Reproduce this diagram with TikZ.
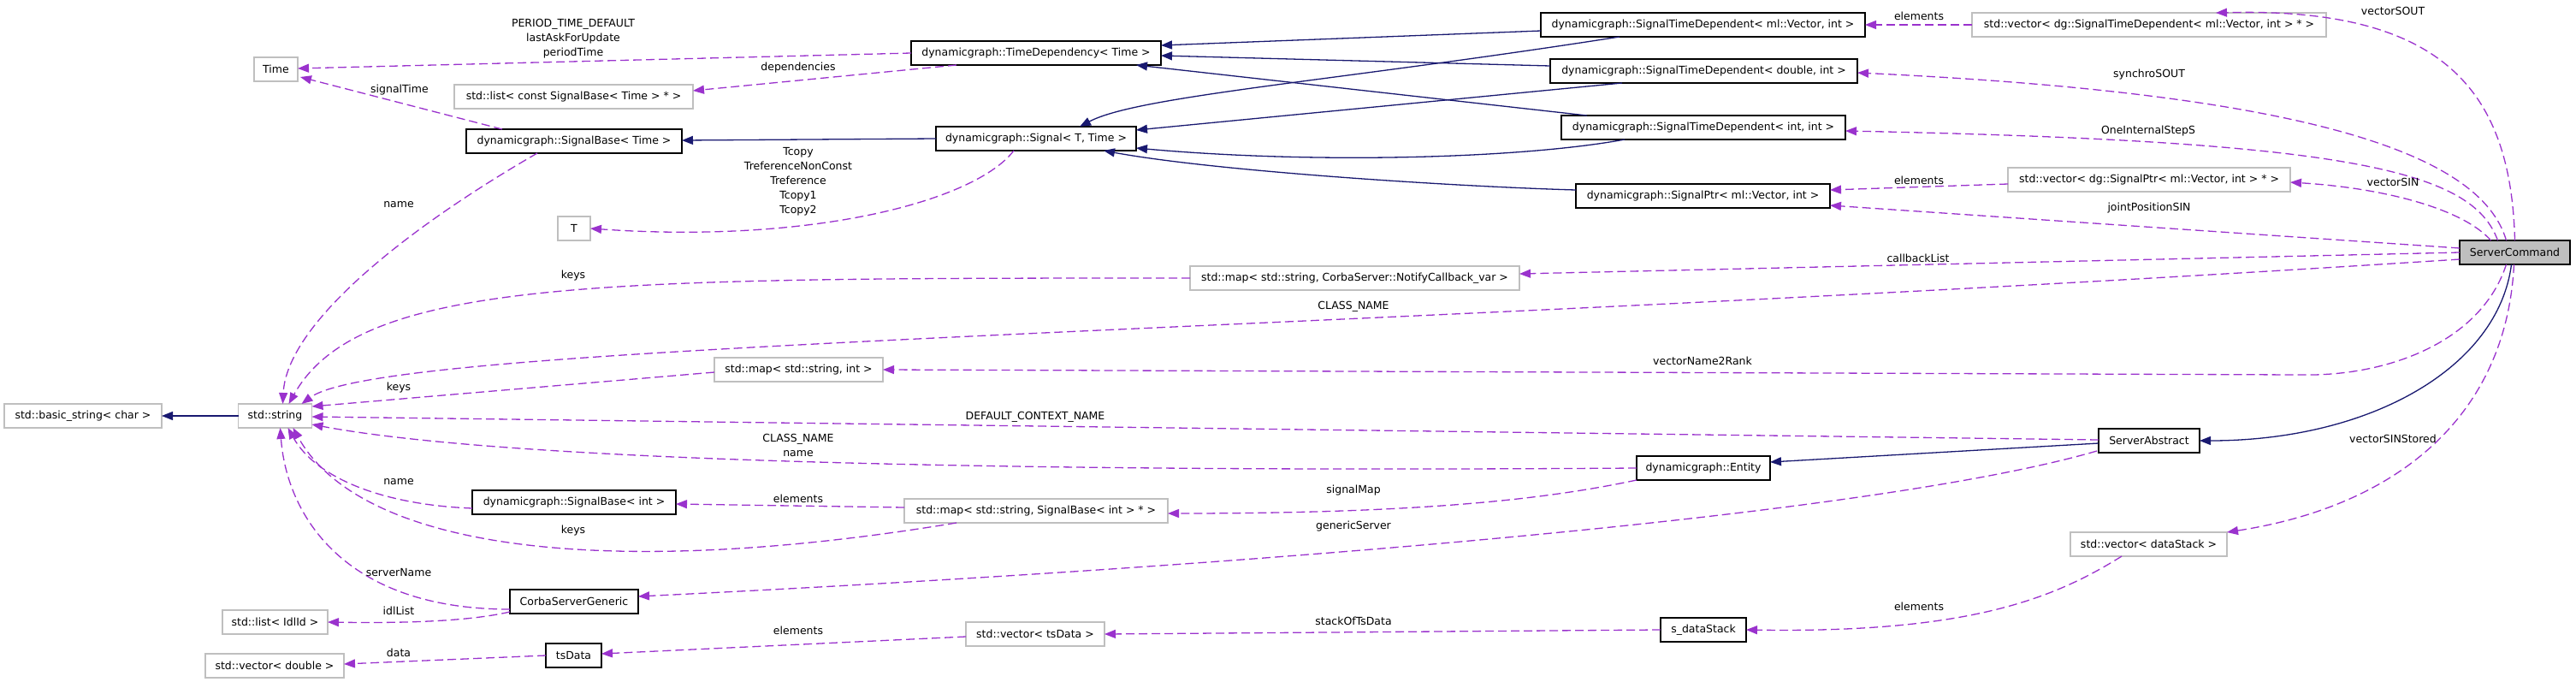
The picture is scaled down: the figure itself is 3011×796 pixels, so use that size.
\documentclass[tikz,border=0pt]{standalone}
\usepackage{fontspec}
\setmainfont{DejaVu Sans}
\usetikzlibrary{arrows.meta,calc}
\definecolor{usecol}{HTML}{9A32CD}
\definecolor{inhcol}{HTML}{191970}
\definecolor{grayb}{HTML}{BFBFBF}
\begin{document}
\begin{tikzpicture}[x=1pt,y=-1pt,
 every node/.style={font=\fontsize{12.5pt}{17pt}\selectfont, inner sep=0pt, outer sep=0pt},
 cls/.style={draw=black, line width=1.7pt, fill=white, minimum height=28pt},
 ext/.style={draw=grayb, line width=1.7pt, fill=white, minimum height=28pt},
 lbl/.style={align=center},
 inh/.style={draw=inhcol, line width=1.3pt, -{Triangle[length=13pt,width=10pt]}},
 use/.style={draw=usecol, line width=1.3pt, dash pattern=on 10pt off 5pt, -{Triangle[length=13pt,width=10pt]}},
]
\useasboundingbox (0,0) rectangle (3011,796);

% ---------- nodes ----------
\node[cls, fill=grayb, minimum width=129pt] (sc) at (2939.5,295) {ServerCommand};
\node[ext, minimum width=414pt] (stdvecstd) at (2512,29) {std::vector< dg::SignalTimeDependent< ml::Vector, int > * >};
\node[ext, minimum width=330pt] (vecsptr) at (2512,210) {std::vector< dg::SignalPtr< ml::Vector, int > * >};
\node[cls, minimum width=379pt] (stdvec) at (1990.5,29) {dynamicgraph::SignalTimeDependent< ml::Vector, int >};
\node[cls, minimum width=359pt] (stddbl) at (1991.5,83) {dynamicgraph::SignalTimeDependent< double, int >};
\node[cls, minimum width=332pt] (stdint) at (1991,149) {dynamicgraph::SignalTimeDependent< int, int >};
\node[cls, minimum width=297pt] (sptr) at (1990.5,229) {dynamicgraph::SignalPtr< ml::Vector, int >};
\node[cls, minimum width=292pt] (timedep) at (1211,62) {dynamicgraph::TimeDependency< Time >};
\node[cls, minimum width=234pt] (signal) at (1211,162) {dynamicgraph::Signal< T, Time >};
\node[ext, minimum width=51pt] (time) at (322.5,81) {Time};
\node[ext, minimum width=279pt] (listsb) at (670.5,113) {std::list< const SignalBase< Time > * >};
\node[cls, minimum width=252pt] (sbtime) at (671,165) {dynamicgraph::SignalBase< Time >};
\node[ext, minimum width=38pt] (T) at (671,267) {T};
\node[ext, minimum width=385pt] (mapcb) at (1583.5,325) {std::map< std::string, CorbaServer::NotifyCallback\_var >};
\node[ext, minimum width=197pt] (mapsi) at (933.5,432) {std::map< std::string, int >};
\node[ext, minimum width=86pt] (string) at (321.5,486) {std::string};
\node[ext, minimum width=184pt] (bstring) at (97,486) {std::basic\_string< char >};
\node[cls, minimum width=118pt] (sabs) at (2512,515) {ServerAbstract};
\node[cls, minimum width=156pt] (entity) at (1991,547) {dynamicgraph::Entity};
\node[cls, minimum width=238pt] (sbint) at (671,587) {dynamicgraph::SignalBase< int >};
\node[ext, minimum width=308pt] (mapsb) at (1211,597) {std::map< std::string, SignalBase< int > * >};
\node[cls, minimum width=150pt] (corba) at (671,703) {CorbaServerGeneric};
\node[ext, minimum width=123pt] (listidl) at (321.5,727) {std::list< IdlId >};
\node[cls, minimum width=65pt] (tsdata) at (670.5,766) {tsData};
\node[ext, minimum width=162pt] (vecdbl) at (321,778) {std::vector< double >};
\node[ext, minimum width=162pt] (vects) at (1210,741) {std::vector< tsData >};
\node[cls, minimum width=100pt] (sds) at (1991,736) {s\_dataStack};
\node[ext, minimum width=183pt] (vecds) at (2511.5,636) {std::vector< dataStack >};

% ---------- inheritance ----------
\draw[inh] (string.west) -- (bstring.east);
\draw[inh] (signal.west) -- ($(sbtime.east)+(0,-1)$);
\draw[inh] ($(stdvec.west)+(0,7)$) -- ($(timedep.east)+(0,-9)$);
\draw[inh] ($(stdvec.south west)+(92,0)$) .. controls (1560,95) and (1330,112) .. ($(signal.north west)+(168,0)$);
\draw[inh] ($(stddbl.west)+(0,-6)$) -- ($(timedep.east)+(0,3)$);
\draw[inh] ($(stddbl.south west)+(84,0)$) -- ($(signal.east)+(0,-10)$);
\draw[inh] ($(stdint.north west)+(30,0)$) -- ($(timedep.south east)+(-29,0)$);
\draw[inh] ($(stdint.south west)+(74,0)$) .. controls (1780,185) and (1540,192) .. ($(signal.east)+(0,11)$);
\draw[inh] ($(sptr.west)+(0,-7)$) .. controls (1700,218) and (1420,200) .. ($(signal.south east)+(-38,0)$);
\draw[inh] ($(sc.south)+(-4,0)$) .. controls (2920,430) and (2770,515) .. (sabs.east);
\draw[inh] ($(sabs.west)+(0,3)$) -- ($(entity.east)+(0,-7)$);

% ---------- usage ----------
\draw[use] (timedep.west) -- ($(time.east)+(0,-1)$);
\draw[use] ($(timedep.south west)+(53,0)$) -- ($(listsb.east)+(0,-7)$);
\draw[use] ($(sbtime.north west)+(42,0)$) -- ($(time.south east)+(3,-5)$);
\draw[use] ($(sbtime.south west)+(83,0)$) .. controls (470,270) and (335,380) .. ($(string.north west)+(52,0)$);
\draw[use] ($(signal.south west)+(91,0)$) .. controls (1140,235) and (950,285) .. (T.east);
\draw[use] (stdvecstd.west) -- (stdvec.east);
\draw[use] (sc.north) .. controls (2935,110) and (2860,8) .. ($(stdvecstd.north east)+(-129,0)$);
\draw[use] ($(sc.north)+(-10,0)$) .. controls (2900,180) and (2700,110) .. ($(stddbl.east)+(0,2)$);
\draw[use] ($(sc.north)+(-20,0)$) .. controls (2890,200) and (2750,165) .. ($(stdint.east)+(0,4)$);
\draw[use] ($(vecsptr.west)+(0,5)$) -- ($(sptr.east)+(0,-7)$);
\draw[use] ($(sc.north)+(-28,0)$) .. controls (2880,245) and (2790,220) .. ($(vecsptr.east)+(0,3)$);
\draw[use] ($(sc.west)+(0,-5)$) -- ($(sptr.east)+(0,11)$);
\draw[use] (sc.west) -- ($(mapcb.east)+(0,-5)$);
\draw[use] (mapcb.west) .. controls (700,325) and (420,325) .. ($(string.north west)+(59,0)$);
\draw[use] ($(sc.west)+(0,8)$) .. controls (1500,392) and (450,400) .. ($(string.north east)+(-12,0)$);
\draw[use] ($(sc.south)+(-10,0)$) .. controls (2900,400) and (2790,440) .. (2690,438) -- (mapsi.east);
\draw[use] ($(sc.south)+(-1,0)$) .. controls (2930,480) and (2810,590) .. (vecds.north east);
\draw[use] ($(vecds.south west)+(60,0)$) .. controls (2400,700) and (2300,740) .. (sds.east);
\draw[use] (sds.west) -- (vects.east);
\draw[use] ($(vects.west)+(0,3)$) -- ($(tsdata.east)+(0,-2)$);
\draw[use] (tsdata.west) -- ($(vecdbl.east)+(0,-2)$);
\draw[use] ($(corba.west)+(0,12)$) .. controls (540,728) and (450,728) .. (listidl.east);
\draw[use] ($(corba.west)+(0,9)$) .. controls (400,712) and (335,600) .. ($(string.south west)+(49,0)$);
\draw[use] ($(sbint.west)+(0,7)$) .. controls (450,590) and (370,560) .. ($(string.south west)+(58,0)$);
\draw[use] ($(mapsb.south west)+(61,0)$) .. controls (700,680) and (420,640) .. ($(string.south west)+(64,0)$);
\draw[use] ($(mapsb.west)+(0,-4)$) -- ($(sbint.east)+(0,2)$);
\draw[use] (entity.south west) .. controls (1800,585) and (1650,600) .. ($(mapsb.east)+(0,3)$);
\draw[use] (entity.west) .. controls (1200,552) and (600,540) .. ($(string.east)+(0,10)$);
\draw[use] ($(sabs.south west)+(-2,-2)$) .. controls (2200,600) and (1500,660) .. ($(corba.east)+(0,-6)$);
\draw[use] ($(sabs.west)+(0,-1)$) -- ($(string.east)+(0,1)$);
\draw[use] ($(mapsi.west)+(0,3)$) -- ($(string.north east)+(0,3)$);

% ---------- labels ----------
\node[lbl] (l1) at (670,45) {PERIOD\_TIME\_DEFAULT\\lastAskForUpdate\\periodTime};
\node[lbl] (l2) at (933,79) {dependencies};
\node[lbl] (l3) at (467,105) {signalTime};
\node[lbl] (l4) at (466,239) {name};
\node[lbl] (l5) at (933,212) {Tcopy\\TreferenceNonConst\\Treference\\Tcopy1\\Tcopy2};
\node[lbl] (l6) at (670,322) {keys};
\node[lbl] (l7) at (466,453) {keys};
\node[lbl] (l8) at (1582,358) {CLASS\_NAME};
\node[lbl] (l9) at (1990,422) {vectorName2Rank};
\node[lbl] (l10) at (1210,487) {DEFAULT\_CONTEXT\_NAME};
\node[lbl] (l11) at (933,520) {CLASS\_NAME\\name};
\node[lbl] (l12) at (466,563) {name};
\node[lbl] (l13) at (933,583) {elements};
\node[lbl] (l14) at (670,620) {keys};
\node[lbl] (l15) at (1582,573) {signalMap};
\node[lbl] (l16) at (1582,615) {genericServer};
\node[lbl] (l17) at (466,669) {serverName};
\node[lbl] (l18) at (466,714) {idlList};
\node[lbl] (l19) at (933,737) {elements};
\node[lbl] (l20) at (466,763) {data};
\node[lbl] (l21) at (1582,726) {stackOfTsData};
\node[lbl] (l22) at (2243,709) {elements};
\node[lbl] (l23) at (2797,513) {vectorSINStored};
\node[lbl] (l24) at (2242,302) {callbackList};
\node[lbl] (l25) at (2243,19) {elements};
\node[lbl] (l26) at (2797,13) {vectorSOUT};
\node[lbl] (l27) at (2512,87) {synchroSOUT};
\node[lbl] (l28) at (2511,153) {OneInternalStepS};
\node[lbl] (l29) at (2243,211) {elements};
\node[lbl] (l30) at (2797,213) {vectorSIN};
\node[lbl] (l31) at (2512,243) {jointPositionSIN};
\end{tikzpicture}
\end{document}
